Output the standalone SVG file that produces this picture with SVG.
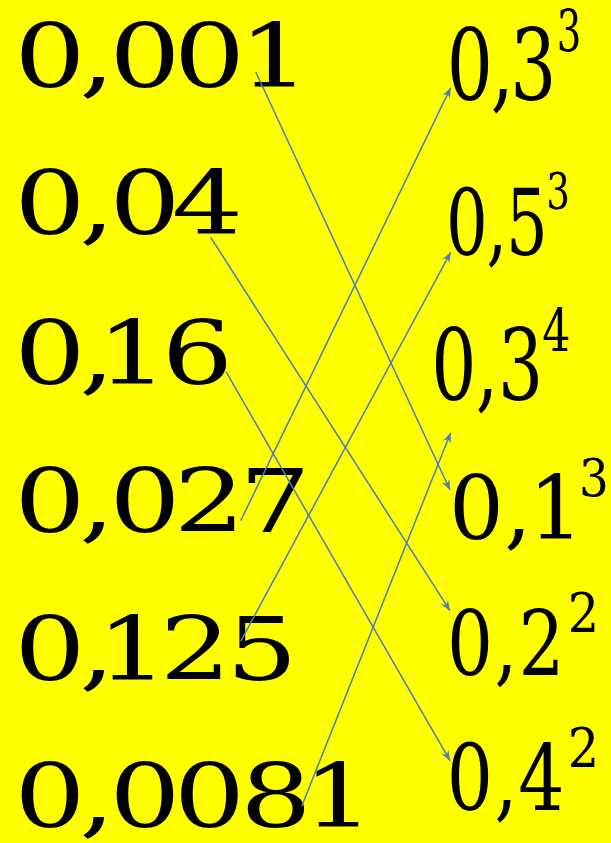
<svg xmlns="http://www.w3.org/2000/svg" width="611" height="843" viewBox="0 0 611 843">
<style>
.t{font-family:'DejaVu Serif','Liberation Serif',serif;fill:#000;text-anchor:middle}
.conn{stroke:#4a7ebb;stroke-width:1.5;fill:none;marker-end:url(#ah)}
</style>
<defs>
<marker id="ah" markerUnits="userSpaceOnUse" markerWidth="12" markerHeight="10" refX="10" refY="4" orient="auto" viewBox="0 0 12 8">
<path d="M0,0 L10,4 L0,8 L3,4 z" fill="#4a7ebb"/>
</marker>
</defs>
<rect width="611" height="843" fill="#ffff00"/>
<g class="t">
<g id="L1"><text font-size="87" transform="translate(0,86.8) scale(1.29,1)" x="38.7 75.2 112.4 162.4 212.8">0,001</text></g>
<g id="L2"><text font-size="87" transform="translate(0,233.8) scale(1.29,1)" x="38.7 75.2 112.4 160.9">0,04</text></g>
<g id="L3"><text font-size="87" transform="translate(0,383.8) scale(1.29,1)" x="38.7 75.2 102.7 153.1">0,16</text></g>
<g id="L4"><text font-size="87" transform="translate(0,531.8) scale(1.29,1)" x="38.7 75.2 112.4 162.4 213.2">0,027</text></g>
<g id="L5"><text font-size="87" transform="translate(0,680) scale(1.29,1)" x="38.7 75.2 102.7 151.6 203.1">0,125</text></g>
<g id="L6"><text font-size="87" transform="translate(0,826.8) scale(1.29,1)" x="38.7 75.2 112.4 162.4 214 262.4">0,0081</text></g>
<g id="R1"><text font-size="98.7" transform="translate(0,100.2) scale(0.735,1)" x="639.3 683.4 725.7">0,3</text><text font-size="58" transform="translate(0,51.2) scale(0.66,1)" x="862.1">3</text></g>
<g id="R2"><text font-size="91.3" transform="translate(0,255.3) scale(0.72,1)" x="648.6 690.3 731.9">0,5</text><text font-size="50.4" transform="translate(0,209.3) scale(0.73,1)" x="764.4">3</text></g>
<g id="R3"><text font-size="98.7" transform="translate(0,400.3) scale(0.72,1)" x="630.4 676.4 722.9">0,3</text><text font-size="60" transform="translate(0,351.7) scale(0.74,1)" x="752">4</text></g>
<g id="R4"><text font-size="88" transform="translate(0,538.7) scale(0.98,1)" x="486.2 528.6 567.2">0,1</text><text font-size="52.6" transform="translate(0,496) scale(0.89,1)" x="667.4">3</text></g>
<g id="R5"><text font-size="90.4" transform="translate(0,675.4) scale(0.8,1)" x="587.4 632.5 676.9">0,2</text><text font-size="53.7" transform="translate(0,631.7) scale(0.92,1)" x="634.1">2</text></g>
<g id="R6"><text font-size="92" transform="translate(0,810.4) scale(0.79,1)" x="594.8 640.5 685.4">0,4</text><text font-size="53.7" transform="translate(0,766.7) scale(0.92,1)" x="634.1">2</text></g>
</g>
<g id="connectors">
<line class="conn" x1="255.7" y1="71.7" x2="450" y2="490"/>
<line class="conn" x1="210.7" y1="237.3" x2="450" y2="610.7"/>
<line class="conn" x1="226" y1="371.7" x2="450" y2="760.7"/>
<line class="conn" x1="240.7" y1="520.7" x2="450.7" y2="87.7"/>
<line class="conn" x1="240.7" y1="641.3" x2="450.7" y2="252.3"/>
<line class="conn" x1="301.7" y1="806.3" x2="450.7" y2="432.7"/>
</g>
</svg>
